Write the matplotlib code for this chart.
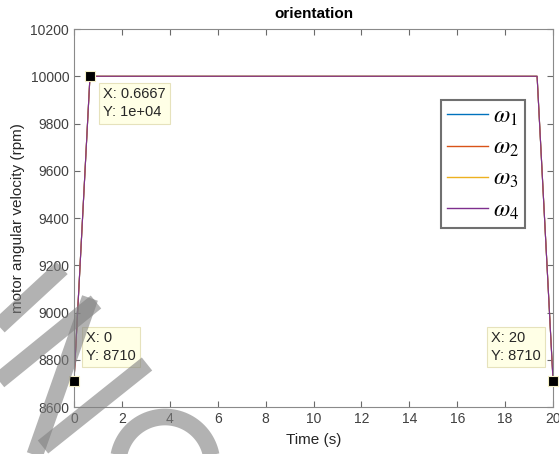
import numpy as np
import matplotlib
matplotlib.use('Agg')
import matplotlib.pyplot as plt

plt.rcParams['font.family'] = ['Liberation Sans', 'DejaVu Sans']
plt.rcParams['mathtext.fontset'] = 'stix'

# data
t = [0, 0.6667, 19.3333, 20]
w1 = [8710, 10000, 10000, 8710]
w2 = [8710, 10000, 10000, 8710]
w3 = [8710, 10000, 10000, 8710]
w4 = [8710, 10000, 10000, 8710]
names = [r'$\omega_1$', r'$\omega_2$', r'$\omega_3$', r'$\omega_4$']
colors = ['#0072BD', '#D95319', '#EDB120', '#7E2F8E']

# datatips: (index into t/w4, text offset in pixels)
tips = [(1, (13, -11)), (0, (12, 50)), (3, (-62, 50))]

xticks = np.arange(0, 21, 2)
yticks = np.arange(8600, 10201, 200)

fig = plt.figure(figsize=(5.59, 4.54), dpi=100)
ax = fig.add_axes([0.1324, 0.1035, 0.857, 0.8325])

for y, c, n in zip([w1, w2, w3, w4], colors, names):
    ax.plot(t, y, color=c, lw=0.8, label=n)

ax.set_xlim(0, 20)
ax.set_ylim(8600, 10200)
ax.set_xticks(xticks)
ax.set_yticks(yticks)
ax.tick_params(direction='in', top=True, right=True, length=4, width=0.8,
               colors='#6a6a6a', labelsize=10, labelcolor='#404040')
for s in ax.spines.values():
    s.set_color('#8a8a8a')
    s.set_linewidth(0.8)

ax.set_title('orientation', fontsize=11, fontweight='bold', pad=8)
ax.set_xlabel('Time (s)', fontsize=11, color='#262626', labelpad=5)
ax.set_ylabel('motor angular velocity (rpm)', fontsize=11, color='#262626', labelpad=4)

leg = ax.legend(loc='upper right', bbox_to_anchor=(0.941, 0.813), fontsize=17,
                fancybox=False, framealpha=1, edgecolor='#707070',
                handlelength=1.75, handletextpad=0.2, labelspacing=0.38,
                borderpad=0.25, borderaxespad=0)
leg.get_frame().set_linewidth(1.5)
for line in leg.get_lines():
    line.set_linewidth(1.0)

for i, off in tips:
    xv, yv = t[i], w4[i]
    ax.plot(xv, yv, 's', color='black', ms=7, mec='#f5f0c8', mew=0.8,
            clip_on=False, zorder=5)
    ylab = '1e+04' if yv == 10000 else str(yv)
    xlab = ('%.4f' % xv) if xv % 1 else str(int(xv))
    ax.annotate('X: %s\nY: %s' % (xlab, ylab), xy=(xv, yv), xytext=off,
                textcoords='offset pixels', ha='left', va='top', fontsize=10.5,
                color='#262626', linespacing=1.35,
                bbox=dict(boxstyle='square,pad=0.3', fc='#ffffe6', ec='#e6e2bc', lw=0.8),
                zorder=6, annotation_clip=False)

# grey brush-stroke overlay in the corner
ov = fig.add_axes([0, 0, 1, 1], facecolor='none')
ov.set_xlim(0, 559)
ov.set_ylim(454, 0)
ov.axis('off')
strokes = [
    ([-5, 62], [330, 268]),
    ([-5, 96], [384, 302]),
    ([90, 33], [298, 460]),
    ([43, 147], [447, 364]),
]
for sx, sy in strokes:
    ov.plot(sx, sy, color='#808080', alpha=0.6, lw=12, solid_capstyle='butt')
ang = np.linspace(np.pi * 1.02, np.pi * 1.98, 60)
ov.plot(165 + 47 * np.cos(ang), 464 + 47 * np.sin(ang), color='#808080',
        alpha=0.6, lw=12, solid_capstyle='butt')

fig.savefig('out.png', dpi=100)
